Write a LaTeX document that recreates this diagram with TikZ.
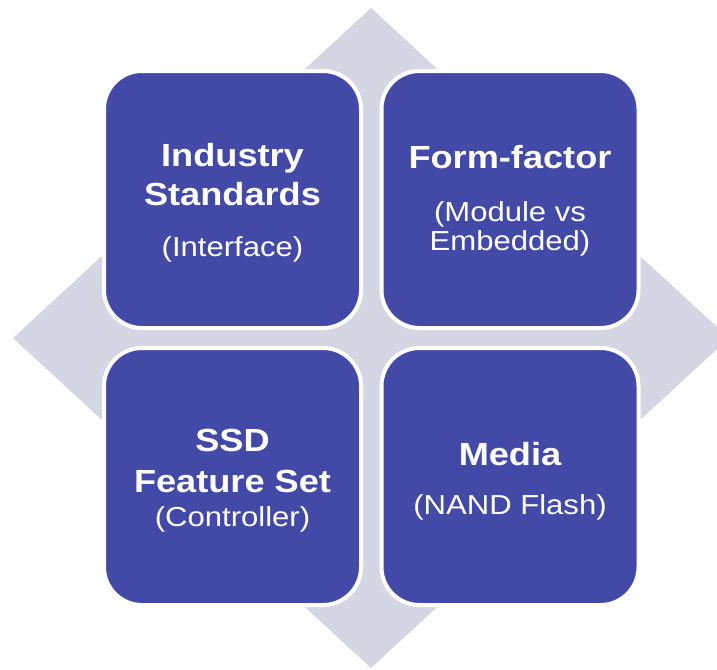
\documentclass[tikz,border=0pt]{standalone}
\usepackage{fontspec}
\setmainfont{Liberation Sans}
\newfontfamily\boxfont[FakeStretch=1.13]{Liberation Sans}
\definecolor{boxblue}{RGB}{67,73,167}
\definecolor{diam}{RGB}{213,214,228}
\begin{document}
\begin{tikzpicture}[x=1pt,y=-1pt,
  tile/.style={fill=boxblue, draw=white, line width=4pt, rounded corners=38pt,
    minimum width=257pt, minimum height=257pt, inner sep=0pt},
  head/.style={anchor=base, text=white, inner sep=0pt,
    font=\boxfont\bfseries\fontsize{32}{38}\selectfont},
  sub/.style={anchor=base, text=white, inner sep=0pt,
    font=\boxfont\fontsize{27.5}{32}\selectfont}]
\clip (0,0) rectangle (717,669);
\fill[diam] (371,8) -- (13,338) -- (371,668) -- (729,338) -- cycle;
\node[tile] (tl) at (232.5,199.5) {};
\node[tile] (tr) at (510,199.5) {};
\node[tile] (bl) at (232.5,476.5) {};
\node[tile] (br) at (510,476.5) {};
% top left
\node[head] (tl1) at (232.5,166) {Industry};
\node[head] (tl2) at (232.5,205) {Standards};
\node[sub] (tl3) at (232.5,256) {(Interface)};
% top right
\node[head] (tr1) at (510,168) {Form-factor};
\node[sub] (tr2) at (510,221) {(Module vs};
\node[sub] (tr3) at (510,250) {Embedded)};
% bottom left
\node[head] (bl1) at (232.5,451) {SSD};
\node[head] (bl2) at (232.5,492) {Feature Set};
\node[sub] (bl3) at (232.5,526) {(Controller)};
% bottom right
\node[head] (br1) at (510,465) {Media};
\node[sub] (br2) at (510,514) {(NAND Flash)};
\end{tikzpicture}
\end{document}
